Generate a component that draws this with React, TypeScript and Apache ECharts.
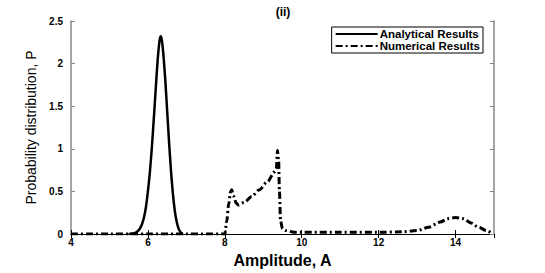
import React, { useEffect, useRef } from "react";
import * as echarts from "echarts";

const analyticalX = [5.5, 5.6, 5.65, 5.7, 5.75, 5.8, 5.85, 5.9, 5.95, 6.0, 6.05, 6.1, 6.15, 6.2, 6.25, 6.3, 6.33, 6.36, 6.4, 6.45, 6.5, 6.55, 6.6, 6.65, 6.7, 6.75, 6.8, 6.85, 6.9];
const analyticalY = [0, 0.005, 0.01, 0.02, 0.04, 0.07, 0.12, 0.2, 0.32, 0.5, 0.72, 1.0, 1.33, 1.68, 2.02, 2.26, 2.32, 2.28, 2.12, 1.82, 1.45, 1.08, 0.74, 0.47, 0.27, 0.14, 0.06, 0.02, 0];

const numericalX = [4, 5, 6, 7, 8.0, 8.05, 8.1, 8.15, 8.18, 8.22, 8.3, 8.36, 8.5, 8.7, 8.9, 9.1, 9.3, 9.34, 9.37, 9.4, 9.42, 9.45, 9.5, 9.6, 9.8, 10, 11, 12, 12.6, 13.0, 13.3, 13.6, 13.8, 14.0, 14.2, 14.4, 14.6, 14.8, 14.95];
const numericalY = [0, 0, 0, 0, 0, 0.15, 0.35, 0.5, 0.52, 0.45, 0.36, 0.34, 0.37, 0.44, 0.52, 0.61, 0.73, 0.77, 0.98, 0.85, 0.5, 0.15, 0.06, 0.04, 0.02, 0.02, 0.02, 0.02, 0.025, 0.04, 0.08, 0.14, 0.18, 0.195, 0.18, 0.13, 0.08, 0.04, 0.01];

const xTicks = { min: 4, max: 15, interval: 2 };
const yTicks = { min: 0, max: 2.5, interval: 0.5 };

export default function App() {
  const ref = useRef<HTMLDivElement>(null);
  useEffect(() => {
    if (!ref.current) return;
    const chart = echarts.init(ref.current, null, { renderer: "svg" });
    const labelFont = { fontFamily: "Liberation Sans, Arial, sans-serif", fontWeight: "bold" as const, fontSize: 10, color: "#000" };
    chart.setOption({
      animation: false,
      backgroundColor: "#fff",
      title: {
        text: "(ii)",
        left: 278,
        top: 1,
        textAlign: "center",
        textStyle: { fontFamily: "Liberation Sans, Arial, sans-serif", fontWeight: "bold", fontSize: 12, color: "#000" },
      },
      grid: { left: 71, right: 51, top: 21, bottom: 31 },
      legend: {
        orient: "vertical",
        right: 62,
        top: 27,
        itemGap: 0,
        itemWidth: 42,
        itemHeight: 11,
        padding: [1, 3, 1, 3],
        borderColor: "#000",
        borderWidth: 1,
        backgroundColor: "#fff",
        itemStyle: { opacity: 0 },
        textStyle: { fontFamily: "Liberation Sans, Arial, sans-serif", fontWeight: "bold", fontSize: 11.5, color: "#000", padding: [0, 0, 0, -3] },
        data: ["Analytical Results", "Numerical Results"],
      },
      xAxis: [
        {
          type: "value",
          min: xTicks.min,
          max: xTicks.max,
          interval: xTicks.interval,
          name: "Amplitude, A",
          nameLocation: "middle",
          nameGap: 18,
          nameTextStyle: { fontFamily: "Liberation Sans, Arial, sans-serif", fontWeight: "bold", fontSize: 16, color: "#000" },
          axisLine: { lineStyle: { color: "#000", width: 1 } },
          axisTick: { inside: true, length: 4, lineStyle: { color: "#000" } },
          axisLabel: { ...labelFont, margin: 3, showMaxLabel: false },
          splitLine: { show: false },
        },
        {
          type: "value",
          position: "top",
          min: xTicks.min,
          max: xTicks.max,
          interval: xTicks.interval,
          axisLine: { lineStyle: { color: "#000", width: 1 } },
          axisTick: { inside: true, length: 4, lineStyle: { color: "#000" } },
          axisLabel: { show: false },
          splitLine: { show: false },
        },
      ],
      yAxis: [
        {
          type: "value",
          min: yTicks.min,
          max: yTicks.max,
          interval: yTicks.interval,
          name: "Probability distribution, P",
          nameLocation: "middle",
          nameGap: 31,
          nameTextStyle: { fontFamily: "Liberation Sans Narrow, Liberation Sans, Arial, sans-serif", fontSize: 14, color: "#000" },
          axisLine: { show: true, lineStyle: { color: "#888", width: 1.5 } },
          axisTick: { show: true, inside: true, length: 4, lineStyle: { color: "#888" } },
          axisLabel: { ...labelFont, margin: 8 },
          splitLine: { show: false },
        },
        {
          type: "value",
          position: "right",
          min: yTicks.min,
          max: yTicks.max,
          interval: yTicks.interval,
          axisLine: { show: true, lineStyle: { color: "#888", width: 1.5 } },
          axisTick: { show: true, inside: true, length: 4, lineStyle: { color: "#888" } },
          axisLabel: { show: false },
          splitLine: { show: false },
        },
      ],
      series: [
        {
          name: "Numerical Results",
          type: "line",
          symbol: "none",
          smooth: 0.3,
          smoothMonotone: "x",
          data: numericalX.map((x, i) => [x, numericalY[i]]),
          lineStyle: { color: "#000", width: 3, type: [7, 3, 2, 3] },
          itemStyle: { color: "#000" },
          z: 2,
        },
        {
          name: "Analytical Results",
          type: "line",
          symbol: "none",
          smooth: 0.2,
          data: analyticalX.map((x, i) => [x, analyticalY[i]]),
          lineStyle: { color: "#000", width: 2.5 },
          itemStyle: { color: "#000" },
          z: 3,
        },
      ],
    });
    return () => chart.dispose();
  }, []);
  return <div ref={ref} style={{ width: 545, height: 273, position: "absolute", left: 0, top: 0 }} />;
}
